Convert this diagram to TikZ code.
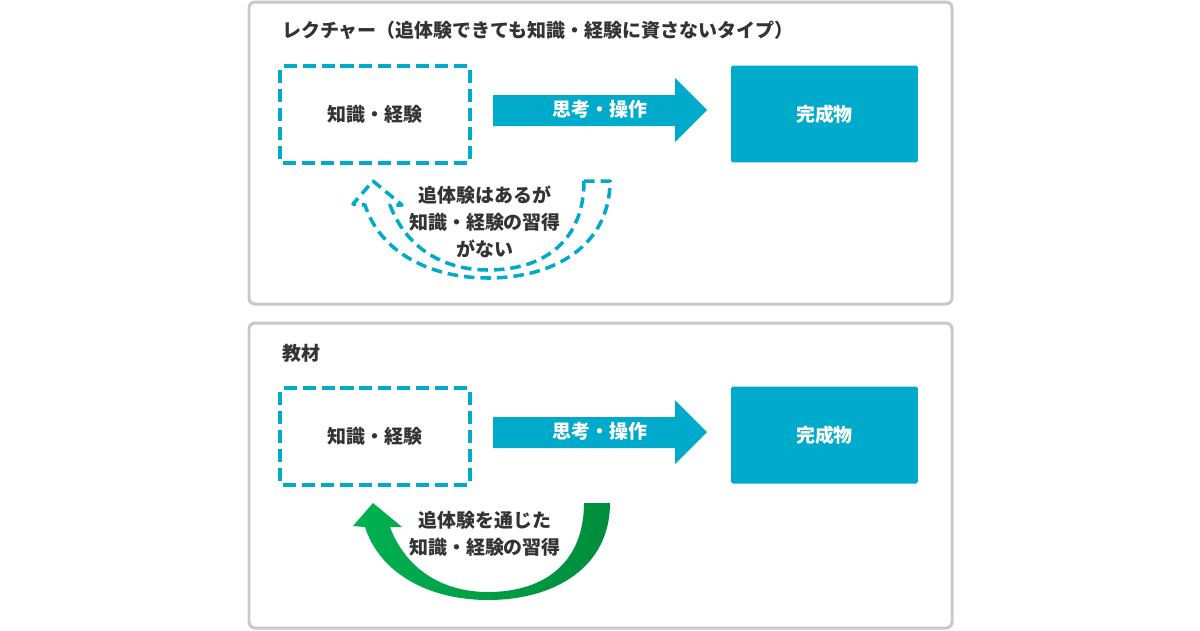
\documentclass[tikz,border=0pt]{standalone}
\usepackage{fontspec}
\setmainfont{Noto Sans CJK JP}
\usepackage{xcolor}
\definecolor{kyozai}{HTML}{00AACB}
\definecolor{waku}{HTML}{C8C8C8}
\definecolor{moji}{HTML}{333333}
\definecolor{midoriL}{HTML}{00B251}
\definecolor{midoriR}{HTML}{008C3C}

% curved arrow under the boxes, in pixel coordinates of the upper panel
\newcommand{\modoriya}{(584,181) -- (610,181)
    .. controls (610,245) and (555,278) .. (488,278)
    .. controls (430,278) and (380,252) .. (365,205)
    -- (353,204) -- (373,181) -- (402,205) -- (390,205)
    .. controls (405,245) and (440,270) .. (488,270)
    .. controls (545,270) and (584,240) .. (584,181) -- cycle}

\begin{document}
\begin{tikzpicture}[x=0.02cm,y=-0.02cm,
    panel/.style={draw=waku,line width=1.7pt,rounded corners=3.4pt},
    title/.style={anchor=west,text=moji,font=\fontsize{10.8}{13}\selectfont\bfseries},
    dashbox/.style={draw=kyozai,line width=2pt,dash pattern=on 7.4pt off 3.4pt,rounded corners=1.5pt,
        minimum width=3.8cm,minimum height=1.94cm,text=moji,font=\fontsize{10.8}{13}\selectfont\bfseries},
    donebox/.style={fill=kyozai,rounded corners=1pt,minimum width=3.74cm,minimum height=1.94cm,
        text=white,font=\fontsize{10.8}{13}\selectfont\bfseries},
    arrowtext/.style={text=white,font=\fontsize{10.8}{13}\selectfont\bfseries},
    note/.style={align=center,text=moji,font=\fontsize{10.8}{15.3}\selectfont\bfseries}]

\useasboundingbox (0,0) rectangle (1200,630);

% upper panel
\draw[panel] (249,2) rectangle (952,304);
\node[title] (title1) at (276,30) {レクチャー（追体験できても知識・経験に資さないタイプ）};
\node[dashbox] (chishiki1) at (375,114.5) {知識・経験};
\node[donebox] (kansei1) at (824.5,114) {完成物};
\fill[kyozai] (493,95) -- (675,95) -- (675,78) -- (707,110) -- (675,142) -- (675,126) -- (493,126) -- cycle;
\node[arrowtext] (shiko1) at (600,109) {思考・操作};
\draw[kyozai,line width=2pt,dash pattern=on 6pt off 3.4pt,line join=round] \modoriya;
\node[note] (setsumei1) at (485,222) {追体験はあるが\\知識・経験の習得\\がない};

% lower panel
\draw[panel] (249,323) rectangle (952,628);
\node[title] (title2) at (276,353) {教材};
\node[dashbox] (chishiki2) at (375,436.5) {知識・経験};
\node[donebox] (kansei2) at (824.5,435) {完成物};
\fill[kyozai] (493,417) -- (675,417) -- (675,400) -- (707,432) -- (675,464) -- (675,448) -- (493,448) -- cycle;
\node[arrowtext] (shiko2) at (600,431) {思考・操作};
\begin{scope}[shift={(0,322)}]
  \shade[left color=midoriL,right color=midoriR] \modoriya;
\end{scope}
\node[note] (setsumei2) at (485,534) {追体験を通じた\\知識・経験の習得};

\end{tikzpicture}
\end{document}
